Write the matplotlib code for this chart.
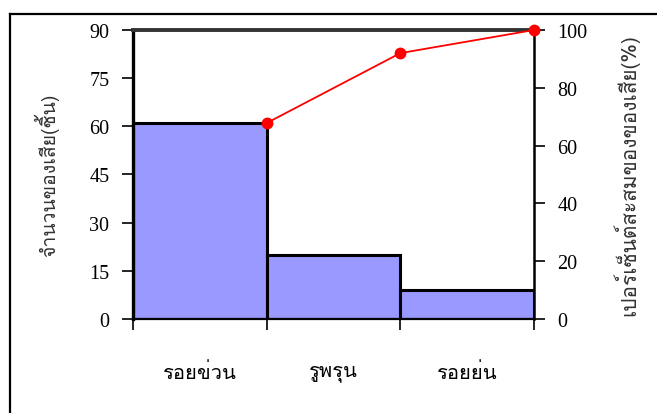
import matplotlib
matplotlib.use('Agg')
import matplotlib.pyplot as plt
from matplotlib import font_manager
from matplotlib.ft2font import FT2Font
from matplotlib.lines import Line2D

# ข้อมูลของเสีย
categories = ['รอยข่วน', 'รูพรุน', 'รอยย่น']
counts = [61, 20, 9]
cum_percent = [67.8, 92, 100]
left_ticks = [0, 15, 30, 45, 60, 75, 90]
right_ticks = [0, 20, 40, 60, 80, 100]


def find_thai_font():
    """หา font ที่มีตัวอักษรไทย"""
    for path in sorted(font_manager.findSystemFonts()):
        try:
            f = FT2Font(path)
            if 0x0E01 in f.get_charmap() and 0x0E48 in f.get_charmap():
                return font_manager.FontProperties(fname=path).get_name()
        except Exception:
            pass
    return 'DejaVu Sans'


thai = find_thai_font()
num_font = 'Liberation Serif'

fig = plt.figure(figsize=(6.57, 4.14), dpi=100)
ax = fig.add_axes([0.2024, 0.2271, 0.6104, 0.698])

x = list(range(len(counts)))
ax.bar(x, counts, width=1, align='edge', color='#9999ff',
       edgecolor='black', linewidth=2.2, zorder=2)
ax.set_xlim(0, len(counts))
ax.set_ylim(0, 90)
ax.set_yticks(left_ticks)
ax.set_xticks(range(len(counts) + 1))
ax.set_xticklabels([])
ax.set_xticks([i + 0.5 for i in x], minor=True)
ax.set_xticklabels(categories, minor=True, fontfamily=thai, fontsize=14.5)
ax.tick_params(axis='x', which='major', length=8, width=1.2, direction='out')
ax.tick_params(axis='x', which='minor', length=0, pad=31)
ax.tick_params(axis='y', length=8, width=1.2, labelsize=14.5, pad=9)
for t in ax.get_yticklabels():
    t.set_fontfamily(num_font)
ax.set_ylabel('จำนวนของเสีย(ชิ้น)', fontfamily=thai, fontsize=14, color='#333333', labelpad=22)

ax.spines['left'].set_linewidth(2.4)
ax.spines['top'].set_linewidth(2.8)
ax.spines['top'].set_color('#333333')
ax.spines['bottom'].set_linewidth(1.6)
ax.spines['right'].set_visible(False)

ax2 = ax.twinx()
ax2.plot([i + 1 for i in x], cum_percent, color='red', linewidth=1.3,
         marker='o', markersize=7.5, clip_on=False, zorder=3)
ax2.set_ylim(0, 100)
ax2.set_yticks(right_ticks)
ax2.tick_params(axis='y', length=8, width=1.2, labelsize=14.5, pad=9)
for t in ax2.get_yticklabels():
    t.set_fontfamily(num_font)
ax2.set_ylabel('เปอร์เซ็นต์สะสมของของเสีย(%)', fontfamily=thai, fontsize=15,
               color='#333333', rotation=90, labelpad=18)
ax2.spines['right'].set_linewidth(1.8)
for s in ['left', 'top', 'bottom']:
    ax2.spines[s].set_visible(False)

# กรอบด้านนอก
fig.add_artist(Line2D([0.0152, 1.0], [0.9638, 0.9638], color='black', linewidth=1.6))
fig.add_artist(Line2D([0.0152, 0.0152], [0.0, 0.9638], color='black', linewidth=1.6))

fig.savefig('out.png', dpi=100)
